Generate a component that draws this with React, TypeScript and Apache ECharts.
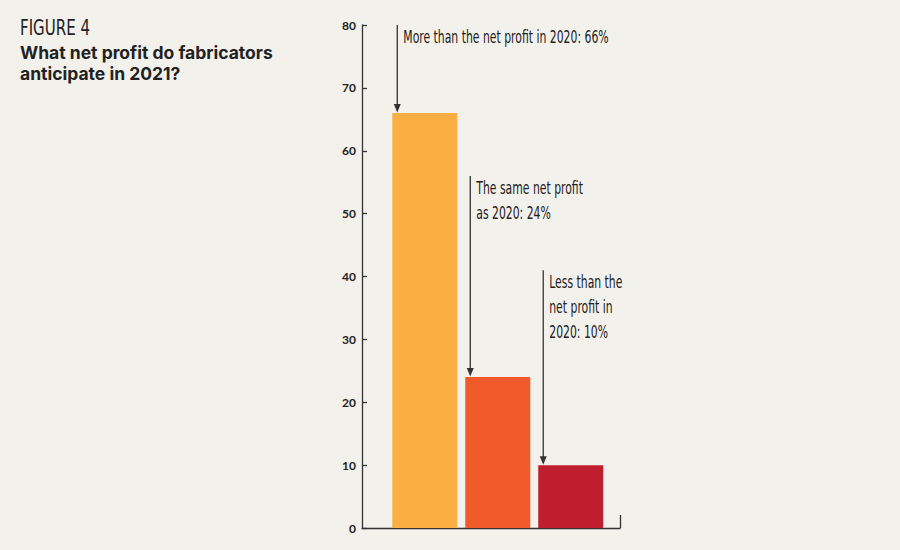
import React, { useEffect, useRef } from "react";
import * as echarts from "echarts";

// Survey answers, in the order the bars are drawn
const categories = ["More than 2020", "Same as 2020", "Less than 2020"];
const shares = [66, 24, 10];
const barColors = ["#FBAF43", "#F15A2B", "#BE1E2D"];

// Callout text for each bar and the axis value where its arrow starts
const calloutLines = [
  ["More than the net profit in 2020: 66%"],
  ["The same net profit", "as 2020: 24%"],
  ["Less than the", "net profit in", "2020: 10%"],
];
const calloutTops = [80, 56, 41];

const yMin = 0;
const yMax = 80;
const yStep = 10;

const titleKicker = "FIGURE 4";
const titleText = "What net profit do fabricators\nanticipate in 2021?";

const NARROW = '"Liberation Sans Narrow", "DejaVu Sans Condensed", sans-serif';
const INK = "#222222";
const BG = "#F2F1EC";

export default function App() {
  const ref = useRef<HTMLDivElement>(null);

  useEffect(() => {
    if (!ref.current) return;
    const chart = echarts.init(ref.current, null, { renderer: "svg" });

    const xMin = -0.86;
    const xMax = 2.675;

    chart.setOption({
      animation: false,
      backgroundColor: BG,
      grid: { left: 362, right: 280, top: 25, bottom: 22 },
      xAxis: {
        type: "value",
        min: xMin,
        max: xMax,
        axisLabel: { show: false },
        splitLine: { show: false },
        axisLine: { show: true, onZero: false, lineStyle: { color: "#333", width: 1.3 } },
        axisTick: {
          show: true,
          inside: true,
          length: 13,
          customValues: [xMax],
          lineStyle: { color: "#333", width: 1.3 },
        },
      },
      yAxis: {
        type: "value",
        min: yMin,
        max: yMax,
        interval: yStep,
        splitLine: { show: false },
        axisLine: { show: true, onZero: false, lineStyle: { color: "#333", width: 1.3 } },
        axisTick: { show: true, inside: true, length: 5, lineStyle: { color: "#333", width: 1.3 } },
        axisLabel: {
          color: INK,
          fontSize: 12,
          fontWeight: "bold",
          fontFamily: "Lato, sans-serif",
          margin: 6,
        },
      },
      graphic: [
        {
          type: "text",
          x: 20,
          y: 17,
          scaleX: 0.76,
          style: {
            text: titleKicker,
            fontFamily: NARROW,
            fontSize: 22,
            fill: INK,
          },
        },
        {
          type: "text",
          x: 20,
          y: 42,
          style: {
            text: titleText,
            fontFamily: "Inter, sans-serif",
            fontWeight: "bold",
            fontSize: 17.5,
            lineHeight: 21,
            fill: INK,
          },
        },
      ],
      series: [
        {
          type: "bar",
          name: "Share of fabricators",
          barWidth: 65,
          data: shares.map((v, i) => ({
            name: categories[i],
            value: [i, v],
            itemStyle: { color: barColors[i] },
          })),
        },
        {
          type: "custom",
          name: "Callouts",
          z: 5,
          clip: false,
          data: calloutTops.map((t, i) => [i, t, shares[i]]),
          renderItem: (params: any, api: any) => {
            const i = api.value(0);
            const top = api.coord([i, api.value(1)]);
            const end = api.coord([i, api.value(2)]);
            const ax = top[0] - 27.5;
            const lines = calloutLines[params.dataIndex];
            return {
              type: "group",
              children: [
                {
                  type: "line",
                  shape: { x1: ax, y1: top[1], x2: ax, y2: end[1] - 6 },
                  style: { stroke: "#333", lineWidth: 1.3 },
                },
                {
                  type: "polygon",
                  shape: {
                    points: [
                      [ax - 3.5, end[1] - 9],
                      [ax + 3.5, end[1] - 9],
                      [ax, end[1] - 0.5],
                    ],
                  },
                  style: { fill: "#333" },
                },
                {
                  type: "text",
                  x: ax + 6,
                  y: top[1] - 1,
                  scaleX: 0.71,
                  style: {
                    text: lines.join("\n"),
                    fontFamily: NARROW,
                    fontSize: 17,
                    lineHeight: 25,
                    fill: INK,
                    align: "left",
                    verticalAlign: "top",
                  },
                },
              ],
            };
          },
        },
      ],
    });

    return () => chart.dispose();
  }, []);

  return (
    <div
      ref={ref}
      style={{ position: "fixed", left: 0, top: 0, width: 900, height: 550, background: BG }}
    />
  );
}
